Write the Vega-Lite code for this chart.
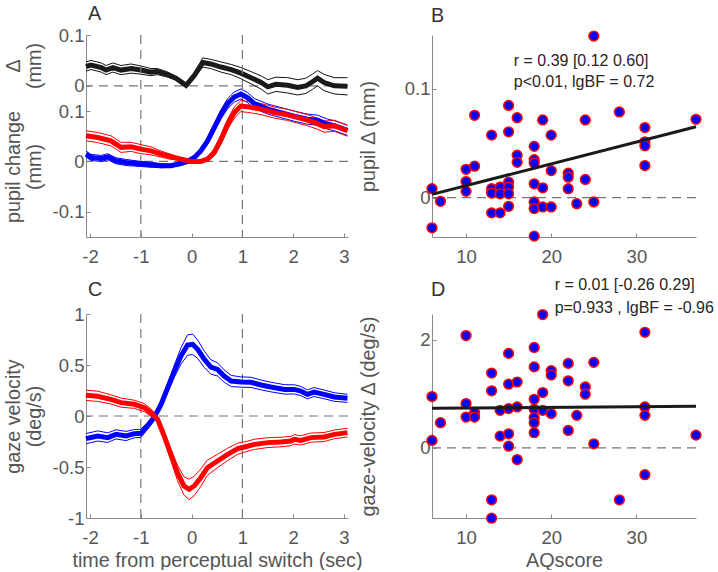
{
  "$schema": "https://vega.github.io/schema/vega-lite/v6.json",
  "padding": {"left": 2, "top": 4, "right": 0, "bottom": 0},
  "background": "white",
  "datasets": {
    "delta": [
      {"t": -2.08, "m": 0.038, "lo": 0.029, "hi": 0.047},
      {"t": -1.98, "m": 0.041, "lo": 0.032, "hi": 0.050},
      {"t": -1.78, "m": 0.036, "lo": 0.027, "hi": 0.045},
      {"t": -1.685, "m": 0.031, "lo": 0.022, "hi": 0.040},
      {"t": -1.55, "m": 0.036, "lo": 0.027, "hi": 0.045},
      {"t": -1.39, "m": 0.031, "lo": 0.022, "hi": 0.040},
      {"t": -1.19, "m": 0.034, "lo": 0.025, "hi": 0.043},
      {"t": -1.0, "m": 0.031, "lo": 0.023, "hi": 0.039},
      {"t": -0.80, "m": 0.027, "lo": 0.020, "hi": 0.034},
      {"t": -0.67, "m": 0.028, "lo": 0.022, "hi": 0.034},
      {"t": -0.47, "m": 0.022, "lo": 0.017, "hi": 0.027},
      {"t": -0.31, "m": 0.015, "lo": 0.012, "hi": 0.018},
      {"t": -0.11, "m": 0.001, "lo": 0.0005, "hi": 0.0015},
      {"t": 0.05, "m": 0.020, "lo": 0.016, "hi": 0.024},
      {"t": 0.22, "m": 0.046, "lo": 0.037, "hi": 0.055},
      {"t": 0.38, "m": 0.043, "lo": 0.034, "hi": 0.052},
      {"t": 0.58, "m": 0.037, "lo": 0.027, "hi": 0.047},
      {"t": 0.78, "m": 0.032, "lo": 0.022, "hi": 0.042},
      {"t": 0.97, "m": 0.025, "lo": 0.014, "hi": 0.036},
      {"t": 1.17, "m": 0.016, "lo": 0.004, "hi": 0.028},
      {"t": 1.37, "m": 0.0065, "lo": -0.0065, "hi": 0.0195},
      {"t": 1.50, "m": -0.002, "lo": -0.016, "hi": 0.012},
      {"t": 1.66, "m": 0.003, "lo": -0.011, "hi": 0.017},
      {"t": 1.89, "m": 0.001, "lo": -0.014, "hi": 0.016},
      {"t": 2.09, "m": -0.003, "lo": -0.018, "hi": 0.012},
      {"t": 2.25, "m": 0.000, "lo": -0.015, "hi": 0.015},
      {"t": 2.38, "m": 0.008, "lo": -0.007, "hi": 0.023},
      {"t": 2.48, "m": 0.015, "lo": 0.000, "hi": 0.030},
      {"t": 2.61, "m": 0.0065, "lo": -0.0095, "hi": 0.0225},
      {"t": 2.81, "m": 0.000, "lo": -0.016, "hi": 0.016},
      {"t": 3.07, "m": -0.001, "lo": -0.018, "hi": 0.016}
    ],
    "pupil": [
      {"c": "blue", "t": -2.08, "m": 0.0146, "lo": 0.0086, "hi": 0.0206},
      {"c": "blue", "t": -1.98, "m": 0.008, "lo": 0.002, "hi": 0.014},
      {"c": "blue", "t": -1.78, "m": 0.006, "lo": 0.0, "hi": 0.012},
      {"c": "blue", "t": -1.65, "m": 0.0093, "lo": 0.0033, "hi": 0.0153},
      {"c": "blue", "t": -1.49, "m": 0.0014, "lo": -0.0046, "hi": 0.0074},
      {"c": "blue", "t": -1.29, "m": -0.002, "lo": -0.008, "hi": 0.004},
      {"c": "blue", "t": -1.0, "m": -0.005, "lo": -0.010, "hi": 0.0},
      {"c": "blue", "t": -0.80, "m": -0.0065, "lo": -0.0115, "hi": -0.0015},
      {"c": "blue", "t": -0.60, "m": -0.0085, "lo": -0.0125, "hi": -0.0045},
      {"c": "blue", "t": -0.41, "m": -0.0085, "lo": -0.0115, "hi": -0.0055},
      {"c": "blue", "t": -0.21, "m": -0.004, "lo": -0.006, "hi": -0.002},
      {"c": "blue", "t": -0.08, "m": 0.0, "lo": -0.001, "hi": 0.001},
      {"c": "blue", "t": 0.053, "m": 0.008, "lo": 0.005, "hi": 0.011},
      {"c": "blue", "t": 0.18, "m": 0.021, "lo": 0.016, "hi": 0.026},
      {"c": "blue", "t": 0.315, "m": 0.041, "lo": 0.034, "hi": 0.048},
      {"c": "blue", "t": 0.446, "m": 0.067, "lo": 0.059, "hi": 0.075},
      {"c": "blue", "t": 0.58, "m": 0.094, "lo": 0.085, "hi": 0.103},
      {"c": "blue", "t": 0.71, "m": 0.115, "lo": 0.105, "hi": 0.125},
      {"c": "blue", "t": 0.84, "m": 0.128, "lo": 0.118, "hi": 0.138},
      {"c": "blue", "t": 0.97, "m": 0.134, "lo": 0.124, "hi": 0.144},
      {"c": "blue", "t": 1.10, "m": 0.127, "lo": 0.117, "hi": 0.137},
      {"c": "blue", "t": 1.236, "m": 0.115, "lo": 0.105, "hi": 0.125},
      {"c": "blue", "t": 1.50, "m": 0.104, "lo": 0.094, "hi": 0.114},
      {"c": "blue", "t": 1.76, "m": 0.097, "lo": 0.087, "hi": 0.107},
      {"c": "blue", "t": 2.02, "m": 0.090, "lo": 0.080, "hi": 0.100},
      {"c": "blue", "t": 2.28, "m": 0.084, "lo": 0.074, "hi": 0.094},
      {"c": "blue", "t": 2.48, "m": 0.082, "lo": 0.072, "hi": 0.092},
      {"c": "blue", "t": 2.68, "m": 0.074, "lo": 0.064, "hi": 0.084},
      {"c": "blue", "t": 2.81, "m": 0.071, "lo": 0.061, "hi": 0.081},
      {"c": "blue", "t": 3.07, "m": 0.062, "lo": 0.052, "hi": 0.072},
      {"c": "red", "t": -2.08, "m": 0.051, "lo": 0.041, "hi": 0.061},
      {"c": "red", "t": -1.85, "m": 0.0475, "lo": 0.0375, "hi": 0.0575},
      {"c": "red", "t": -1.59, "m": 0.041, "lo": 0.031, "hi": 0.051},
      {"c": "red", "t": -1.39, "m": 0.028, "lo": 0.018, "hi": 0.038},
      {"c": "red", "t": -1.19, "m": 0.029, "lo": 0.020, "hi": 0.038},
      {"c": "red", "t": -1.0, "m": 0.0245, "lo": 0.0155, "hi": 0.0335},
      {"c": "red", "t": -0.80, "m": 0.021, "lo": 0.013, "hi": 0.029},
      {"c": "red", "t": -0.60, "m": 0.0146, "lo": 0.0086, "hi": 0.0206},
      {"c": "red", "t": -0.41, "m": 0.0093, "lo": 0.0043, "hi": 0.0143},
      {"c": "red", "t": -0.21, "m": 0.0047, "lo": 0.0027, "hi": 0.0067},
      {"c": "red", "t": -0.015, "m": 0.0, "lo": -0.0005, "hi": 0.0005},
      {"c": "red", "t": 0.18, "m": 0.0, "lo": -0.002, "hi": 0.002},
      {"c": "red", "t": 0.315, "m": 0.0047, "lo": 0.0007, "hi": 0.0087},
      {"c": "red", "t": 0.446, "m": 0.018, "lo": 0.011, "hi": 0.025},
      {"c": "red", "t": 0.58, "m": 0.044, "lo": 0.035, "hi": 0.053},
      {"c": "red", "t": 0.71, "m": 0.074, "lo": 0.064, "hi": 0.084},
      {"c": "red", "t": 0.84, "m": 0.097, "lo": 0.086, "hi": 0.108},
      {"c": "red", "t": 0.97, "m": 0.110, "lo": 0.099, "hi": 0.121},
      {"c": "red", "t": 1.14, "m": 0.108, "lo": 0.097, "hi": 0.119},
      {"c": "red", "t": 1.37, "m": 0.104, "lo": 0.093, "hi": 0.115},
      {"c": "red", "t": 1.63, "m": 0.097, "lo": 0.086, "hi": 0.108},
      {"c": "red", "t": 1.89, "m": 0.0925, "lo": 0.0815, "hi": 0.1035},
      {"c": "red", "t": 2.09, "m": 0.087, "lo": 0.076, "hi": 0.098},
      {"c": "red", "t": 2.28, "m": 0.082, "lo": 0.071, "hi": 0.093},
      {"c": "red", "t": 2.48, "m": 0.075, "lo": 0.064, "hi": 0.086},
      {"c": "red", "t": 2.61, "m": 0.069, "lo": 0.058, "hi": 0.080},
      {"c": "red", "t": 2.81, "m": 0.071, "lo": 0.060, "hi": 0.082},
      {"c": "red", "t": 3.07, "m": 0.061, "lo": 0.050, "hi": 0.072}
    ],
    "gaze": [
      {"c": "blue", "t": -2.08, "m": -0.222, "lo": -0.272, "hi": -0.172},
      {"c": "blue", "t": -1.85, "m": -0.196, "lo": -0.246, "hi": -0.146},
      {"c": "blue", "t": -1.65, "m": -0.212, "lo": -0.259, "hi": -0.165},
      {"c": "blue", "t": -1.49, "m": -0.18, "lo": -0.225, "hi": -0.135},
      {"c": "blue", "t": -1.29, "m": -0.196, "lo": -0.241, "hi": -0.151},
      {"c": "blue", "t": -1.13, "m": -0.173, "lo": -0.213, "hi": -0.133},
      {"c": "blue", "t": -1.0, "m": -0.17, "lo": -0.21, "hi": -0.13},
      {"c": "blue", "t": -0.87, "m": -0.098, "lo": -0.133, "hi": -0.063},
      {"c": "blue", "t": -0.74, "m": -0.016, "lo": -0.046, "hi": 0.014},
      {"c": "blue", "t": -0.60, "m": 0.115, "lo": 0.08, "hi": 0.15},
      {"c": "blue", "t": -0.47, "m": 0.278, "lo": 0.233, "hi": 0.323},
      {"c": "blue", "t": -0.34, "m": 0.44, "lo": 0.38, "hi": 0.50},
      {"c": "blue", "t": -0.21, "m": 0.588, "lo": 0.508, "hi": 0.668},
      {"c": "blue", "t": -0.08, "m": 0.696, "lo": 0.596, "hi": 0.796},
      {"c": "blue", "t": 0.02, "m": 0.703, "lo": 0.603, "hi": 0.803},
      {"c": "blue", "t": 0.12, "m": 0.654, "lo": 0.564, "hi": 0.744},
      {"c": "blue", "t": 0.25, "m": 0.556, "lo": 0.476, "hi": 0.636},
      {"c": "blue", "t": 0.38, "m": 0.48, "lo": 0.41, "hi": 0.55},
      {"c": "blue", "t": 0.51, "m": 0.457, "lo": 0.392, "hi": 0.522},
      {"c": "blue", "t": 0.64, "m": 0.392, "lo": 0.332, "hi": 0.452},
      {"c": "blue", "t": 0.78, "m": 0.343, "lo": 0.288, "hi": 0.398},
      {"c": "blue", "t": 0.97, "m": 0.333, "lo": 0.283, "hi": 0.383},
      {"c": "blue", "t": 1.17, "m": 0.33, "lo": 0.28, "hi": 0.38},
      {"c": "blue", "t": 1.37, "m": 0.304, "lo": 0.256, "hi": 0.352},
      {"c": "blue", "t": 1.56, "m": 0.284, "lo": 0.237, "hi": 0.331},
      {"c": "blue", "t": 1.83, "m": 0.261, "lo": 0.215, "hi": 0.307},
      {"c": "blue", "t": 2.02, "m": 0.261, "lo": 0.216, "hi": 0.306},
      {"c": "blue", "t": 2.15, "m": 0.245, "lo": 0.20, "hi": 0.29},
      {"c": "blue", "t": 2.28, "m": 0.212, "lo": 0.168, "hi": 0.256},
      {"c": "blue", "t": 2.41, "m": 0.235, "lo": 0.191, "hi": 0.279},
      {"c": "blue", "t": 2.61, "m": 0.212, "lo": 0.169, "hi": 0.255},
      {"c": "blue", "t": 2.81, "m": 0.186, "lo": 0.144, "hi": 0.228},
      {"c": "blue", "t": 3.07, "m": 0.173, "lo": 0.133, "hi": 0.213},
      {"c": "red", "t": -2.08, "m": 0.203, "lo": 0.153, "hi": 0.253},
      {"c": "red", "t": -1.85, "m": 0.193, "lo": 0.143, "hi": 0.243},
      {"c": "red", "t": -1.59, "m": 0.163, "lo": 0.118, "hi": 0.208},
      {"c": "red", "t": -1.39, "m": 0.131, "lo": 0.086, "hi": 0.176},
      {"c": "red", "t": -1.13, "m": 0.115, "lo": 0.075, "hi": 0.155},
      {"c": "red", "t": -0.93, "m": 0.082, "lo": 0.042, "hi": 0.122},
      {"c": "red", "t": -0.80, "m": 0.033, "lo": -0.002, "hi": 0.068},
      {"c": "red", "t": -0.67, "m": -0.033, "lo": -0.063, "hi": -0.003},
      {"c": "red", "t": -0.54, "m": -0.196, "lo": -0.236, "hi": -0.156},
      {"c": "red", "t": -0.41, "m": -0.376, "lo": -0.431, "hi": -0.321},
      {"c": "red", "t": -0.28, "m": -0.556, "lo": -0.631, "hi": -0.481},
      {"c": "red", "t": -0.15, "m": -0.686, "lo": -0.776, "hi": -0.596},
      {"c": "red", "t": -0.05, "m": -0.719, "lo": -0.819, "hi": -0.619},
      {"c": "red", "t": 0.05, "m": -0.686, "lo": -0.781, "hi": -0.591},
      {"c": "red", "t": 0.18, "m": -0.605, "lo": -0.69, "hi": -0.52},
      {"c": "red", "t": 0.31, "m": -0.507, "lo": -0.582, "hi": -0.432},
      {"c": "red", "t": 0.51, "m": -0.441, "lo": -0.506, "hi": -0.376},
      {"c": "red", "t": 0.71, "m": -0.376, "lo": -0.436, "hi": -0.316},
      {"c": "red", "t": 0.91, "m": -0.32, "lo": -0.375, "hi": -0.265},
      {"c": "red", "t": 1.04, "m": -0.304, "lo": -0.354, "hi": -0.254},
      {"c": "red", "t": 1.24, "m": -0.278, "lo": -0.328, "hi": -0.228},
      {"c": "red", "t": 1.50, "m": -0.261, "lo": -0.309, "hi": -0.213},
      {"c": "red", "t": 1.76, "m": -0.255, "lo": -0.302, "hi": -0.208},
      {"c": "red", "t": 1.96, "m": -0.245, "lo": -0.291, "hi": -0.199},
      {"c": "red", "t": 2.02, "m": -0.229, "lo": -0.275, "hi": -0.183},
      {"c": "red", "t": 2.15, "m": -0.239, "lo": -0.284, "hi": -0.194},
      {"c": "red", "t": 2.35, "m": -0.212, "lo": -0.257, "hi": -0.167},
      {"c": "red", "t": 2.61, "m": -0.206, "lo": -0.25, "hi": -0.162},
      {"c": "red", "t": 2.81, "m": -0.18, "lo": -0.223, "hi": -0.137},
      {"c": "red", "t": 3.07, "m": -0.163, "lo": -0.205, "hi": -0.121}
    ],
    "ptsB": [
      {"aq": 6, "v": 0.0082}, {"aq": 6, "v": -0.0276}, {"aq": 7, "v": -0.0033}, {"aq": 10, "v": 0.026}, {"aq": 10, "v": 0.0148}, {"aq": 10, "v": 0.0058}, {"aq": 11, "v": 0.0755}, {"aq": 11, "v": 0.0288}, {"aq": 13, "v": 0.0573}, {"aq": 13, "v": 0.0082}, {"aq": 13, "v": 0.0042}, {"aq": 13, "v": -0.0139}, {"aq": 14, "v": 0.0097}, {"aq": 14, "v": 0.0036}, {"aq": 14, "v": -0.0139}, {"aq": 15, "v": 0.0845}, {"aq": 15, "v": 0.0603}, {"aq": 15, "v": 0.0142}, {"aq": 15, "v": 0.0097}, {"aq": 15, "v": 0.0036}, {"aq": 15, "v": -0.0079}, {"aq": 16, "v": 0.0733}, {"aq": 16, "v": 0.039}, {"aq": 16, "v": 0.0324}, {"aq": 18, "v": 0.047}, {"aq": 18, "v": 0.0348}, {"aq": 18, "v": 0.0318}, {"aq": 18, "v": 0.0127}, {"aq": 18, "v": -0.0039}, {"aq": 18, "v": -0.01}, {"aq": 18, "v": -0.0352}, {"aq": 19, "v": 0.0712}, {"aq": 19, "v": 0.0091}, {"aq": 19, "v": -0.0085}, {"aq": 20, "v": 0.0573}, {"aq": 20, "v": 0.0248}, {"aq": 20, "v": -0.0085}, {"aq": 22, "v": 0.0224}, {"aq": 22, "v": 0.0188}, {"aq": 22, "v": 0.0082}, {"aq": 23, "v": -0.0055}, {"aq": 24, "v": 0.0712}, {"aq": 24, "v": 0.0167}, {"aq": 25, "v": 0.148}, {"aq": 25, "v": -0.0039}, {"aq": 28, "v": 0.0785}, {"aq": 31, "v": 0.0642}, {"aq": 31, "v": 0.0512}, {"aq": 31, "v": 0.0476}, {"aq": 31, "v": 0.0294}, {"aq": 37, "v": 0.0718}
    ],
    "ptsD": [
      {"aq": 6, "v": 0.95}, {"aq": 6, "v": 0.137}, {"aq": 7, "v": 0.466}, {"aq": 10, "v": 2.08}, {"aq": 10, "v": 0.82}, {"aq": 10, "v": 0.571}, {"aq": 11, "v": 0.652}, {"aq": 11, "v": 0.571}, {"aq": 13, "v": 1.385}, {"aq": 13, "v": 1.056}, {"aq": 13, "v": -0.963}, {"aq": 13, "v": -1.304}, {"aq": 14, "v": 0.696}, {"aq": 14, "v": 0.217}, {"aq": 15, "v": 1.75}, {"aq": 15, "v": 1.18}, {"aq": 15, "v": 0.727}, {"aq": 15, "v": 0.261}, {"aq": 15, "v": 0.031}, {"aq": 16, "v": 1.22}, {"aq": 16, "v": 0.758}, {"aq": 16, "v": -0.217}, {"aq": 18, "v": 1.86}, {"aq": 18, "v": 1.50}, {"aq": 18, "v": 0.90}, {"aq": 18, "v": 0.714}, {"aq": 18, "v": 0.559}, {"aq": 18, "v": 0.466}, {"aq": 18, "v": 0.28}, {"aq": 19, "v": 2.47}, {"aq": 19, "v": 1.025}, {"aq": 19, "v": 0.696}, {"aq": 20, "v": 1.43}, {"aq": 20, "v": 1.35}, {"aq": 20, "v": 0.634}, {"aq": 22, "v": 1.565}, {"aq": 22, "v": 1.242}, {"aq": 22, "v": 0.323}, {"aq": 23, "v": 0.602}, {"aq": 24, "v": 1.13}, {"aq": 24, "v": 0.994}, {"aq": 25, "v": 1.584}, {"aq": 25, "v": 0.075}, {"aq": 28, "v": -0.963}, {"aq": 31, "v": 2.14}, {"aq": 31, "v": 0.758}, {"aq": 31, "v": 0.602}, {"aq": 31, "v": -0.497}, {"aq": 37, "v": 0.236}
    ],
    "fitB": [{"aq": 6, "v": 0.003}, {"aq": 37, "v": 0.065}],
    "fitD": [{"aq": 6, "v": 0.733}, {"aq": 37, "v": 0.77}],
    "one": [{"k": 0}]
  },
  "concat": [
    {
      "width": 262, "height": 202,
      "title": {"text": "A", "dx": 2, "offset": 2},
      "layer": [
        {
          "layer": [
            {"data": {"name": "one"}, "mark": {"type": "rule", "color": "#777", "strokeDash": [9, 6], "strokeWidth": 1.2}, "encoding": {"y": {"datum": 0}}},
            {"data": {"name": "delta"}, "mark": {"type": "line", "color": "#111", "strokeWidth": 1},
             "encoding": {"x": {"field": "t", "type": "quantitative", "title": null}, "y": {"field": "lo", "type": "quantitative", "title": ["Δ", "(mm)"]}}},
            {"data": {"name": "delta"}, "mark": {"type": "line", "color": "#111", "strokeWidth": 1},
             "encoding": {"x": {"field": "t", "type": "quantitative", "title": null}, "y": {"field": "hi", "type": "quantitative", "title": ["Δ", "(mm)"]}}},
            {"data": {"name": "delta"}, "mark": {"type": "line", "color": "#1a1a1a", "strokeWidth": 5},
             "encoding": {
               "x": {"field": "t", "type": "quantitative", "title": null, "scale": {"domain": [-2.08, 3.08], "nice": false, "zero": false},
                 "axis": {"values": [-2, -1, 0, 1, 2, 3], "format": "~g", "labelPadding": 14, "labelExpr": "replace(datum.label, '\u2212', '-')"}},
               "y": {"field": "m", "type": "quantitative", "title": ["Δ", "(mm)"], "scale": {"domain": [-0.02, 0.1], "range": [61, 0], "nice": false, "zero": false},
                 "axis": {"orient": "left", "values": [0, 0.1], "format": "~g", "titleX": -73, "titleBaseline": "middle"}}}}
          ]
        },
        {
          "layer": [
            {"data": {"name": "one"}, "mark": {"type": "rule", "color": "#777", "strokeDash": [9, 6], "strokeWidth": 1.2}, "encoding": {"x": {"datum": -1}}},
            {"data": {"name": "one"}, "mark": {"type": "rule", "color": "#777", "strokeDash": [9, 6], "strokeWidth": 1.2}, "encoding": {"x": {"datum": 1}}},
            {"data": {"name": "one"}, "mark": {"type": "rule", "color": "#777", "strokeDash": [9, 6], "strokeWidth": 1.2}, "encoding": {"y": {"datum": 0}}},
            {"data": {"name": "pupil"}, "mark": {"type": "line", "strokeWidth": 1},
             "encoding": {"x": {"field": "t", "type": "quantitative", "title": null}, "y": {"field": "lo", "type": "quantitative", "title": ["pupil change", "(mm)"]},
               "color": {"field": "c", "type": "nominal", "scale": {"domain": ["blue", "red"], "range": ["#0000ff", "#ff0000"]}, "legend": null}}},
            {"data": {"name": "pupil"}, "mark": {"type": "line", "strokeWidth": 1},
             "encoding": {"x": {"field": "t", "type": "quantitative", "title": null}, "y": {"field": "hi", "type": "quantitative", "title": ["pupil change", "(mm)"]},
               "color": {"field": "c", "type": "nominal", "legend": null}}},
            {"data": {"name": "pupil"}, "mark": {"type": "line", "strokeWidth": 5},
             "encoding": {"x": {"field": "t", "type": "quantitative", "title": null},
               "y": {"field": "m", "type": "quantitative", "title": ["pupil change", "(mm)"], "scale": {"domain": [-0.15, 0.13], "range": [202, 61], "nice": false, "zero": false},
                 "axis": {"orient": "left", "values": [-0.1, 0, 0.1], "format": "~g", "titleX": -73, "titleBaseline": "middle", "labelExpr": "replace(datum.label, '\u2212', '-')"}},
               "color": {"field": "c", "type": "nominal", "legend": null}}}
          ]
        }
      ],
      "resolve": {"scale": {"y": "independent"}}
    },
    {
      "width": 264, "height": 202,
      "title": {"text": "B", "dx": -1, "offset": 2},
      "layer": [
        {"data": {"name": "one"}, "mark": {"type": "rule", "color": "#777", "strokeDash": [9, 6], "strokeWidth": 1.2}, "encoding": {"y": {"datum": 0}}},
        {"data": {"name": "ptsB"}, "mark": {"type": "point", "filled": true, "fill": "#0000ff", "stroke": "#ff0000", "strokeWidth": 1.5, "size": 95, "opacity": 1},
         "encoding": {"x": {"field": "aq", "type": "quantitative", "title": null, "scale": {"domain": [6, 37], "nice": false, "zero": false}, "axis": {"values": [10, 20, 30], "labelPadding": 14}},
           "y": {"field": "v", "type": "quantitative", "title": "pupil Δ (mm)", "scale": {"domain": [-0.036, 0.149], "nice": false, "zero": false}, "axis": {"values": [0, 0.1], "format": "~g", "titleX": -64, "titleBaseline": "middle"}}}},
        {"data": {"name": "fitB"}, "mark": {"type": "line", "color": "#1a1a1a", "strokeWidth": 3},
         "encoding": {"x": {"field": "aq", "type": "quantitative", "title": null}, "y": {"field": "v", "type": "quantitative", "title": "pupil Δ (mm)"}}},
        {"data": {"name": "one"}, "mark": {"type": "text", "align": "left", "baseline": "middle", "fontSize": 16, "font": "Liberation Sans", "color": "#262626"},
         "encoding": {"x": {"datum": 15.6}, "y": {"datum": 0.125}, "text": {"value": "r = 0.39 [0.12 0.60]"}}},
        {"data": {"name": "one"}, "mark": {"type": "text", "align": "left", "baseline": "middle", "fontSize": 16, "font": "Liberation Sans", "color": "#262626"},
         "encoding": {"x": {"datum": 15.6}, "y": {"datum": 0.106}, "text": {"value": "p<0.01, lgBF = 0.72"}}}
      ]
    },
    {
      "width": 262, "height": 204,
      "title": {"text": "C", "dx": 2, "offset": 5},
      "layer": [
        {"data": {"name": "one"}, "mark": {"type": "rule", "color": "#777", "strokeDash": [9, 6], "strokeWidth": 1.2}, "encoding": {"x": {"datum": -1}}},
        {"data": {"name": "one"}, "mark": {"type": "rule", "color": "#777", "strokeDash": [9, 6], "strokeWidth": 1.2}, "encoding": {"x": {"datum": 1}}},
        {"data": {"name": "one"}, "mark": {"type": "rule", "color": "#777", "strokeDash": [9, 6], "strokeWidth": 1.2}, "encoding": {"y": {"datum": 0}}},
        {"data": {"name": "gaze"}, "mark": {"type": "line", "strokeWidth": 1},
         "encoding": {"x": {"field": "t", "type": "quantitative", "title": "time from perceptual switch (sec)"}, "y": {"field": "lo", "type": "quantitative", "title": ["gaze velocity", "(deg/s)"]},
           "color": {"field": "c", "type": "nominal", "scale": {"domain": ["blue", "red"], "range": ["#0000ff", "#ff0000"]}, "legend": null}}},
        {"data": {"name": "gaze"}, "mark": {"type": "line", "strokeWidth": 1},
         "encoding": {"x": {"field": "t", "type": "quantitative", "title": "time from perceptual switch (sec)"}, "y": {"field": "hi", "type": "quantitative", "title": ["gaze velocity", "(deg/s)"]},
           "color": {"field": "c", "type": "nominal", "legend": null}}},
        {"data": {"name": "gaze"}, "mark": {"type": "line", "strokeWidth": 5},
         "encoding": {
           "x": {"field": "t", "type": "quantitative", "title": "time from perceptual switch (sec)", "scale": {"domain": [-2.08, 3.08], "nice": false, "zero": false},
             "axis": {"values": [-2, -1, 0, 1, 2, 3], "format": "~g", "labelPadding": 14, "titleY": 42, "titleBaseline": "middle", "labelExpr": "replace(datum.label, '\u2212', '-')"}},
           "y": {"field": "m", "type": "quantitative", "title": ["gaze velocity", "(deg/s)"], "scale": {"domain": [-1, 1], "nice": false, "zero": false},
             "axis": {"values": [-1, -0.5, 0, 0.5, 1], "format": "~g", "titleX": -73, "titleBaseline": "middle", "labelExpr": "replace(datum.label, '\u2212', '-')"}},
           "color": {"field": "c", "type": "nominal", "legend": null}}}
      ]
    },
    {
      "width": 264, "height": 204,
      "title": {"text": "D", "dx": -1, "offset": 3, "dy": 25},
      "layer": [
        {"data": {"name": "one"}, "mark": {"type": "rule", "color": "#777", "strokeDash": [9, 6], "strokeWidth": 1.2}, "encoding": {"y": {"datum": 0}}},
        {"data": {"name": "ptsD"}, "mark": {"type": "point", "filled": true, "fill": "#0000ff", "stroke": "#ff0000", "strokeWidth": 1.5, "size": 95, "opacity": 1},
         "encoding": {"x": {"field": "aq", "type": "quantitative", "title": "AQscore", "scale": {"domain": [6, 37], "nice": false, "zero": false}, "axis": {"values": [10, 20, 30], "labelPadding": 14, "titleY": 42, "titleBaseline": "middle"}},
           "y": {"field": "v", "type": "quantitative", "title": "gaze-velocity Δ (deg/s)", "scale": {"domain": [-1.3, 2.48], "nice": false, "zero": false}, "axis": {"values": [0, 2], "format": "~g", "titleX": -64, "titleBaseline": "middle"}}}},
        {"data": {"name": "fitD"}, "mark": {"type": "line", "color": "#1a1a1a", "strokeWidth": 3},
         "encoding": {"x": {"field": "aq", "type": "quantitative", "title": "AQscore"}, "y": {"field": "v", "type": "quantitative", "title": "gaze-velocity Δ (deg/s)"}}},
        {"data": {"name": "one"}, "mark": {"type": "text", "align": "left", "baseline": "middle", "fontSize": 16, "font": "Liberation Sans", "color": "#262626"},
         "encoding": {"x": {"datum": 20.4}, "y": {"datum": 3.01}, "text": {"value": "r = 0.01 [-0.26 0.29]"}}},
        {"data": {"name": "one"}, "mark": {"type": "text", "align": "left", "baseline": "middle", "fontSize": 16, "font": "Liberation Sans", "color": "#262626"},
         "encoding": {"x": {"datum": 20.4}, "y": {"datum": 2.6}, "text": {"value": "p=0.933 , lgBF = -0.96"}}}
      ]
    }
  ],
  "columns": 2,
  "spacing": {"row": 77, "column": 84},
  "bounds": "flush",
  "config": {
    "view": {"stroke": null},
    "font": "Liberation Sans",
    "axis": {"grid": false, "labelFont": "Liberation Sans", "titleFont": "Liberation Sans", "labelFontSize": 18.5, "titleFontSize": 19.8,
      "titleFontWeight": "normal", "labelColor": "#555", "titleColor": "#555", "domainColor": "#8a8a8a", "tickColor": "#8a8a8a",
      "tickSize": -4, "labelPadding": 6, "labelFlush": false, "labelOverlap": false, "titleLineHeight": 21},
    "title": {"font": "Liberation Sans", "fontSize": 19.8, "fontWeight": "normal", "color": "#333", "anchor": "start", "frame": "group", "baseline": "alphabetic"}
  }
}
